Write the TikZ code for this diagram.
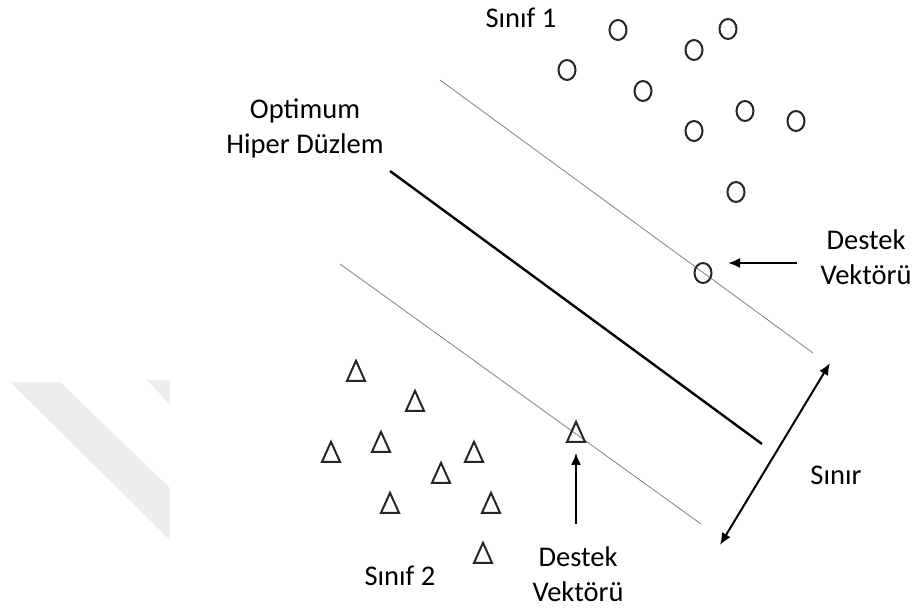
\documentclass[tikz,border=0pt]{standalone}
\usepackage{fontspec}
\setmainfont{Carlito}
\usetikzlibrary{arrows.meta,shapes.geometric}
\begin{document}
\begin{tikzpicture}[x=1pt,y=-1pt,
  lbl/.style={font=\fontsize{28.5}{35}\selectfont, align=center, inner sep=0pt},
  cls1/.style={draw=black!85, line width=2pt, ellipse, minimum width=17pt, minimum height=20pt, inner sep=0pt},
  cls2/.style={draw=black!85, line width=2pt, isosceles triangle, isosceles triangle stretches,
    shape border rotate=90, minimum width=18pt, minimum height=20pt, inner sep=0pt},
  margin/.style={draw=black!45, line width=0.9pt},
  hyper/.style={draw=black, line width=2.4pt},
  arr/.style={draw=black, line width=2pt, -{Latex[length=12pt,width=10pt]}},
  dblarr/.style={draw=black, line width=2pt, {Latex[length=12pt,width=10pt]}-{Latex[length=12pt,width=10pt]}},
  bgshade/.style={fill=black!7, draw=none},
]
\useasboundingbox (0,0) rectangle (919,612);

% faint background shape
\fill[bgshade] (10,382) -- (60,382) -- (170,488) -- (170,540) -- cycle;
\fill[bgshade] (147,380) -- (170,380) -- (170,405) -- cycle;

% separating hyperplane and margin lines
\coordinate (u1) at (440,80);   \coordinate (u2) at (813,353);
\coordinate (h1) at (390,171);  \coordinate (h2) at (762,444);
\coordinate (l1) at (340,264);  \coordinate (l2) at (701,524);
\draw[margin] (u1) -- (u2);
\draw[hyper]  (h1) -- (h2);
\draw[margin] (l1) -- (l2);

% class 1 samples
\node[cls1] (c1) at (618,30) {};
\node[cls1] (c2) at (728,29) {};
\node[cls1] (c3) at (694,50) {};
\node[cls1] (c4) at (567,70) {};
\node[cls1] (c5) at (643,91) {};
\node[cls1] (c6) at (745,111) {};
\node[cls1] (c7) at (796,121) {};
\node[cls1] (c8) at (694,131) {};
\node[cls1] (c9) at (736,192) {};
\node[cls1] (sv1) at (703,273) {};

% class 2 samples
\node[cls2] (t1) at (356,375) {};
\node[cls2] (t2) at (415,405) {};
\node[cls2] (t3) at (381,446) {};
\node[cls2] (t4) at (331,456) {};
\node[cls2] (t5) at (474,456) {};
\node[cls2] (t6) at (441,477) {};
\node[cls2] (t7) at (390,507) {};
\node[cls2] (t8) at (491,507) {};
\node[cls2] (t9) at (483,557) {};
\node[cls2] (sv2) at (576,436) {};

% labels
\node[lbl] (s1) at (521,18) {Sınıf 1};
\node[lbl] (s2) at (400,576) {Sınıf 2};
\node[lbl] (opt) at (305,128) {Optimum\\Hiper Düzlem};
\node[lbl] (d1) at (866,257) {Destek\\Vektörü};
\node[lbl] (d2) at (578,574) {Destek\\Vektörü};
\node[lbl] (sn) at (836,475) {Sınır};

% support vector pointers
\coordinate (a1) at (797,263);
\coordinate (a2) at (728,263);
\draw[arr] (a1) -- (a2);
\draw[arr, shorten <=22pt, shorten >=10pt] (d2.north -| sv2) -- (sv2.south);

% margin width
\coordinate (m1) at (720,545);
\coordinate (m2) at (830,363);
\draw[dblarr] (m1) -- (m2);
\end{tikzpicture}
\end{document}
